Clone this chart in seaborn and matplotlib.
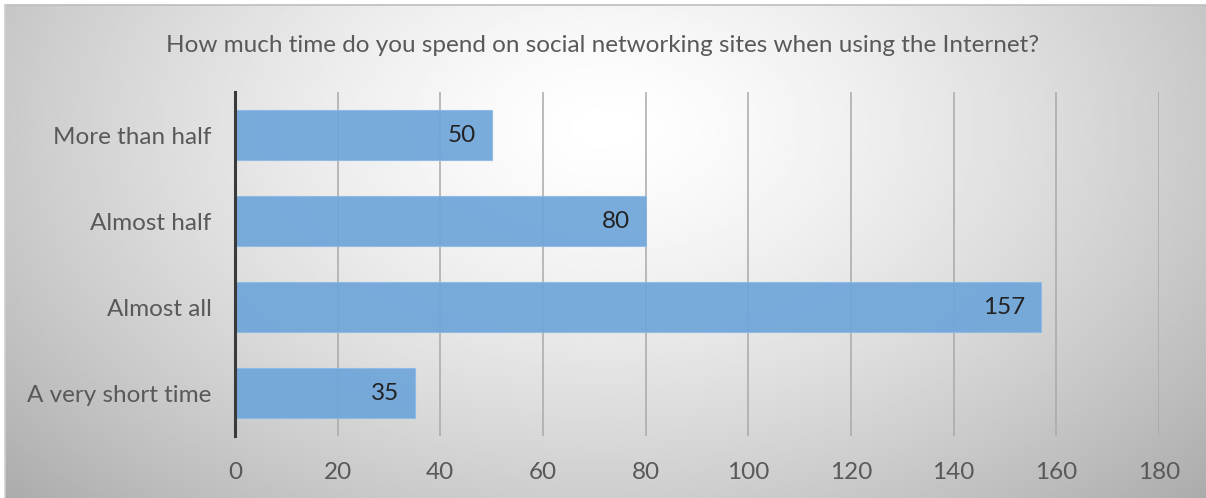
import numpy as np
import pandas as pd
import matplotlib
matplotlib.use("Agg")
import matplotlib.pyplot as plt
import seaborn as sns

# Survey answers, listed top to bottom as drawn
categories = ["More than half", "Almost half", "Almost all", "A very short time"]
counts = [50, 80, 157, 35]
x_ticks = [0, 20, 40, 60, 80, 100, 120, 140, 160, 180]
title = "How much time do you spend on social networking sites when using the Internet?"

sns.set_theme(style="white")
plt.rcParams["font.family"] = ["Lato", "DejaVu Sans"]

W, H = 1206, 498
FS = 17.5
fig = plt.figure(figsize=(W / 100, H / 100), dpi=100)
fig.patch.set_facecolor("white")

# Soft radial backdrop: bright near the top centre, grey toward the edges
bg = fig.add_axes([5 / W, 0, 1 - 5 / W, 1 - 5 / H])
gx, gy = np.meshgrid(np.linspace(0, 1, 600), np.linspace(0, 1, 250))
r = np.sqrt(((gx - 0.5) / 0.6) ** 2 + ((gy - 0.25) / 0.95) ** 2)
shade = 1.0 - 0.27 * np.clip(r, 0, 1.2) ** 1.4
bg.imshow(shade, cmap="gray", vmin=0, vmax=1, aspect="auto",
          extent=[0, 1, 0, 1], origin="upper", interpolation="bilinear")
bg.set_axis_off()
# thin frame along the top and left of the chart area
fig.add_artist(plt.Line2D([5 / W, 1], [1 - 5 / H, 1 - 5 / H], color="#bdbdbd", lw=1.2))
fig.add_artist(plt.Line2D([5 / W, 5 / W], [0, 1 - 5 / H], color="#d0d0d0", lw=1.2))

ax = fig.add_axes([235 / W, 1 - 436 / H, (1159 - 235) / W, (436 - 92) / H])
ax.patch.set_alpha(0)

df = pd.DataFrame({"category": categories, "count": counts})
sns.barplot(data=df, x="count", y="category", orient="h", order=categories,
            color="#6fa5d9", width=0.59, saturation=1, alpha=0.93,
            edgecolor="#8dbbe6", linewidth=0.8, ax=ax, zorder=2)

ax.set_xlim(0, 180)
ax.set_ylim(3.5, -0.5)
ax.set_xticks(x_ticks)
ax.set_xticklabels([str(t) for t in x_ticks])
ax.grid(axis="x", color="#a9a9a9", linewidth=1.1, zorder=1)
ax.grid(axis="y", visible=False)
ax.set_axisbelow(True)
ax.set_xlabel("")
ax.set_ylabel("")

for side in ["top", "right", "bottom"]:
    ax.spines[side].set_visible(False)
ax.spines["left"].set_color("#3a3a3a")
ax.spines["left"].set_linewidth(2.2)
ax.spines["left"].set_zorder(5)

ax.tick_params(axis="both", length=0, colors="#595959", labelsize=FS)
ax.tick_params(axis="x", pad=19)
ax.tick_params(axis="y", pad=17)

for i, v in enumerate(counts):
    ax.annotate(str(v), xy=(v, i), xytext=(-11, 0), textcoords="offset points",
                ha="right", va="center", fontsize=FS, color="#222222", zorder=6)

fig.text(0.5, 1 - 45 / H, title, ha="center", va="center",
         fontsize=FS, color="#595959")

fig.savefig("out.png", dpi=100)
